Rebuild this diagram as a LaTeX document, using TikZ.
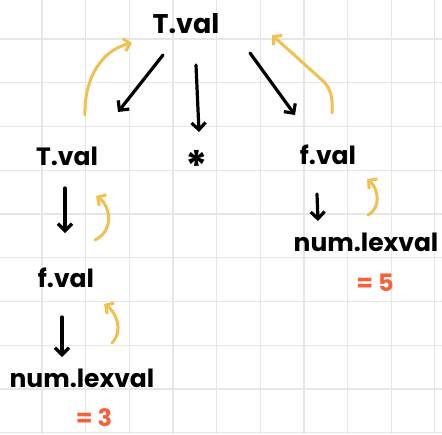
\documentclass[tikz,border=0pt]{standalone}
\usepackage{fontspec}
\setmainfont{Poppins}
\usetikzlibrary{arrows.meta}
\definecolor{gridc}{HTML}{E6E6E6}
\definecolor{yel}{HTML}{F0C050}
\definecolor{org}{HTML}{F8603A}
\tikzset{
  lbl/.style={inner sep=0pt, font=\fontsize{25}{25}\selectfont\bfseries},
  val/.style={inner sep=0pt, text=org, font=\fontsize{24}{24}\selectfont\bfseries},
  down/.style={line width=3.2pt, line cap=round, -{Straight Barb[length=7pt,width=14pt,line width=3.2pt]}},
  up/.style={yel, line width=3pt, line cap=round, -{Straight Barb[length=6pt,width=13pt,line width=3pt]}},
}
\begin{document}
\begin{tikzpicture}[x=1pt,y=-1pt]
\useasboundingbox (0,0) rectangle (442,434);
\fill[white] (0,0) rectangle (442,434);
\foreach \k in {-1,...,9} {
  \draw[gridc, line width=1.2pt] ({42+43.65*\k},0) -- ({42+43.65*\k},434);
  \draw[gridc, line width=1.2pt] (0,{39+43.75*\k}) -- (442,{39+43.75*\k});
}
% labels
\node[lbl, font=\fontsize{27}{27}\selectfont\bfseries] (top) at (186,24) {T.val};
\node[lbl] (tl) at (67,156) {T.val};
\node[lbl, font=\fontsize{42}{42}\selectfont\bfseries] (star) at (197,166) {*};
\node[lbl] (fr) at (328,155) {f.val};
\node[lbl] (numr) at (366,242) {num.lexval};
\node[lbl] (fl) at (66,278) {f.val};
\node[lbl] (numl) at (82,378) {num.lexval};
\node[val] (v3) at (94,418) {= 3};
\node[val] (v5) at (375,283) {= 5};
% connector ends
\coordinate (a1s) at (163,55); \coordinate (a1e) at (118,112);
\coordinate (a2s) at (196,65); \coordinate (a2e) at (199,132);
\coordinate (a3s) at (250,53); \coordinate (a3e) at (295,115);
\coordinate (a4s) at (65,188); \coordinate (a4e) at (65,233);
\coordinate (a5s) at (317,194); \coordinate (a5e) at (318,221);
\coordinate (a6s) at (62,317); \coordinate (a6e) at (62,357);
\draw[down] (a1s) -- (a1e);
\draw[down] (a2s) -- (a2e);
\draw[down] (a3s) -- (a3e);
\draw[down] (a4s) -- (a4e);
\draw[down] (a5s) -- (a5e);
\draw[down] (a6s) -- (a6e);
% yellow returns
\coordinate (y1s) at (85,115); \coordinate (y1e) at (132,43);
\coordinate (y2s) at (332,113); \coordinate (y2e) at (272,35);
\coordinate (y3s) at (95,240); \coordinate (y3e) at (96,196);
\coordinate (y4s) at (368,215); \coordinate (y4e) at (367,179);
\coordinate (y5s) at (112,343); \coordinate (y5e) at (104,304);
\draw[up] (y1s) .. controls (84,78) and (102,50) .. (y1e);
\draw[up] (y2s) .. controls (333,98) and (331,88) .. (322,80) -- (y2e);
\draw[up] (y3s) .. controls (115,230) and (110,205) .. (y3e);
\draw[up] (y4s) .. controls (382,207) and (378,188) .. (y4e);
\draw[up] (y5s) .. controls (124,330) and (116,312) .. (y5e);
\end{tikzpicture}
\end{document}
